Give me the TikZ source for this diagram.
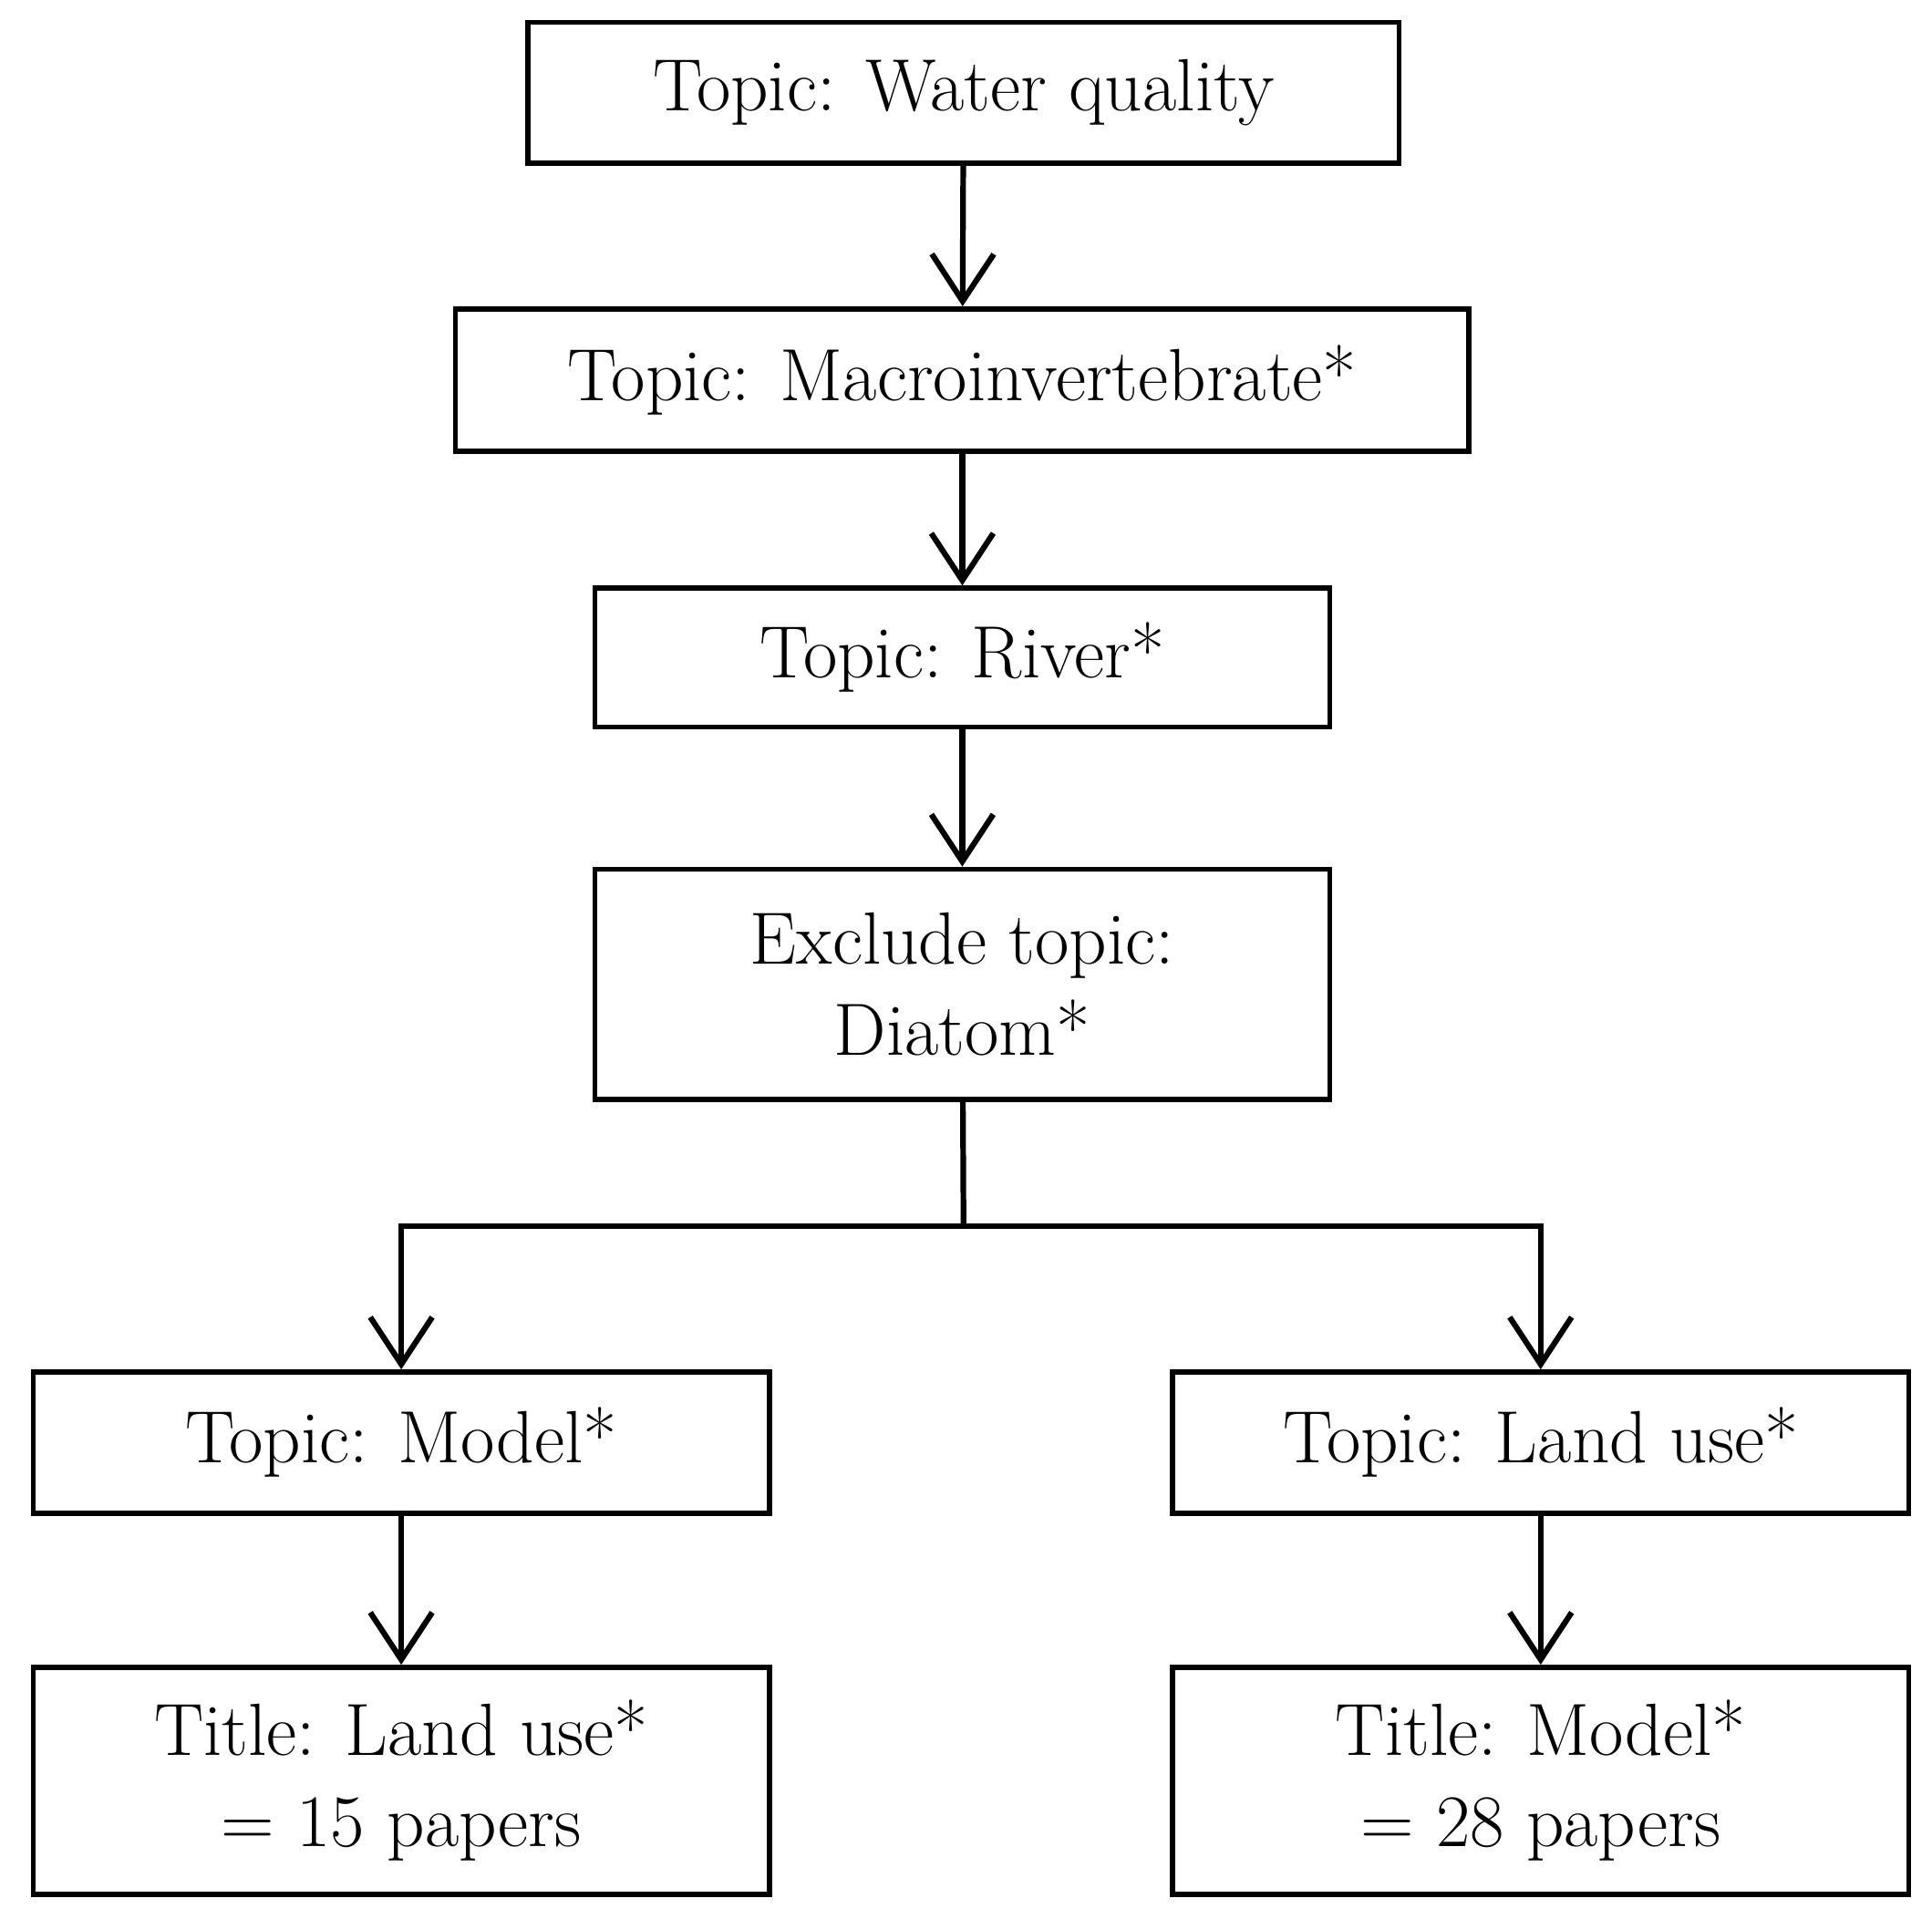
\documentclass[tikz,border=0pt]{standalone}
\usetikzlibrary{arrows.meta}
\begin{document}
\begin{tikzpicture}[x=0.01cm,y=-0.01cm,
  box/.style={draw,line width=1.2pt,inner sep=0pt,align=center,
    font=\fontsize{17}{21}\selectfont},
  arr/.style={line width=1.3pt,-{Straight Barb[length=0.38cm,width=0.5cm,line width=1.3pt]}}]
\useasboundingbox (0,0) rectangle (1560,1549);
\node[box,minimum width=7.03cm,minimum height=1.14cm] (a) at (778,75) {Topic: Water quality};
\node[box,minimum width=8.18cm,minimum height=1.15cm] (b) at (777,307) {Topic: Macroinvertebrate*};
\node[box,minimum width=5.93cm,minimum height=1.12cm] (c) at (777,531) {Topic: River*};
\node[box,minimum width=5.93cm,minimum height=1.86cm] (d) at (777,795) {Exclude topic:\\Diatom*};
\node[box,minimum width=5.94cm,minimum height=1.14cm] (e) at (324,1165) {Topic: Model*};
\node[box,minimum width=5.94cm,minimum height=1.14cm] (f) at (1244,1165) {Topic: Land use*};
\node[box,minimum width=5.94cm,minimum height=1.83cm] (g) at (324,1438) {Title: Land use*\\= 15 papers};
\node[box,minimum width=5.94cm,minimum height=1.83cm] (h) at (1244,1438) {Title: Model*\\= 28 papers};
\coordinate (j) at (778,990);
\draw[arr] (a) -- (b);
\draw[arr] (b) -- (c);
\draw[arr] (c) -- (d);
\draw[line width=1.3pt] (d) -- (j);
\draw[arr] (j) -| (e);
\draw[arr] (j) -| (f);
\draw[arr] (e) -- (g);
\draw[arr] (f) -- (h);
\end{tikzpicture}
\end{document}
